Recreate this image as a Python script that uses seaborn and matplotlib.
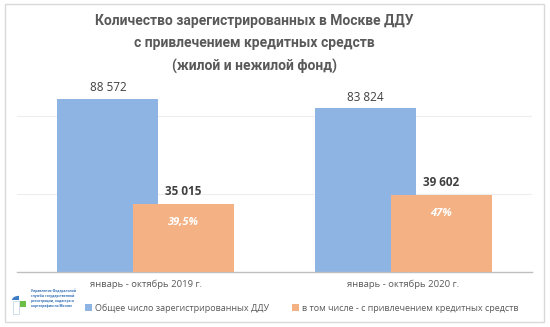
import matplotlib
matplotlib.use("Agg")
import matplotlib.pyplot as plt
from matplotlib.patches import Rectangle, Wedge, Patch
import seaborn as sns
import pandas as pd

# ---- data ----
categories = ["январь - октябрь 2019 г.", "январь - октябрь 2020 г."]
total_ddu = [88572, 83824]
credit_ddu = [35015, 39602]
total_labels = ["88 572", "83 824"]
credit_labels = ["35 015", "39 602"]
share_labels = ["39,5%", "47%"]
series_names = ["Общее число зарегистрированных ДДУ",
                "в том числе - с привлечением кредитных средств"]
title = "Количество зарегистрированных в Москве ДДУ\nс привлечением кредитных средств\n(жилой и нежилой фонд)"

BLUE = "#8DB4E2"
ORANGE = "#F4B183"
TXT = "#595959"
DARK = "#404040"

sns.set_theme(style="white")
plt.rcParams["font.family"] = ["Open Sans", "DejaVu Sans"]

W, H = 550, 327
fig = plt.figure(figsize=(W / 100, H / 100), dpi=100)
fig.patch.set_facecolor("white")

# chart border
fig.add_artist(Rectangle((5 / W, 1 - 322 / H), 539 / W, 318 / H,
                         transform=fig.transFigure, fill=False,
                         edgecolor="#D9D9D9", linewidth=1))

ax = fig.add_axes([17 / W, 1 - 272 / H, 515 / W, 190 / H])

offset = 0.147
bar_w = 0.392
idx = list(range(len(categories)))
df_total = pd.DataFrame({"x": [i - offset for i in idx], "y": total_ddu})
df_credit = pd.DataFrame({"x": [i + offset for i in idx], "y": credit_ddu})

sns.barplot(data=df_total, x="x", y="y", native_scale=True, width=bar_w,
            color=BLUE, saturation=1, linewidth=0, ax=ax, zorder=2)
sns.barplot(data=df_credit, x="x", y="y", native_scale=True, width=bar_w,
            color=ORANGE, saturation=1, linewidth=0, ax=ax, zorder=3)

ax.set_xlim(-0.5, len(categories) - 0.5)
ax.set_ylim(0, 97300)
ax.set_xlabel("")
ax.set_ylabel("")

# gridlines
ax.set_yticks([40000, 80000])
ax.set_yticklabels([])
ax.tick_params(axis="y", length=0)
ax.grid(axis="y", color="#EDEDED", linewidth=0.8, zorder=0)
ax.set_axisbelow(True)

# x axis: boundary ticks and category labels
ax.set_xticks([-0.5, 0.5, 1.5])
ax.set_xticklabels([])
ax.tick_params(axis="x", which="major", direction="out", length=3,
               color="#BFBFBF", width=0.8)
ax.set_xticks(idx, minor=True)
ax.set_xticklabels(categories, minor=True)
ax.tick_params(axis="x", which="minor", length=0, pad=5.5,
               labelsize=6.8, labelcolor=TXT)

for s in ["top", "left", "right"]:
    ax.spines[s].set_visible(False)
ax.spines["bottom"].set_color("#BFBFBF")
ax.spines["bottom"].set_linewidth(1)

# value labels
for i in idx:
    ax.annotate(total_labels[i], (i - offset, total_ddu[i]), xytext=(0, 8),
                textcoords="offset points", ha="center", va="center",
                fontsize=8.5, color=DARK)
    ax.annotate(credit_labels[i], (i + offset, credit_ddu[i]), xytext=(0, 8.5),
                textcoords="offset points", ha="center", va="center",
                fontsize=8.5, color=DARK, fontweight="bold")
    ax.annotate(share_labels[i], (i + offset, credit_ddu[i]), xytext=(0, -13.5),
                textcoords="offset points", ha="center", va="center",
                fontsize=8, color="white", fontweight="bold", fontstyle="italic")

# title
fig.text(254 / W, 1 - 44 / H, title, ha="center", va="center",
         fontsize=10, fontweight="bold", color=TXT, linespacing=1.75,
         family=["Roboto", "DejaVu Sans"])

# legend
handles = [Patch(facecolor=BLUE, edgecolor="none"),
           Patch(facecolor=ORANGE, edgecolor="none")]
fig.legend(handles, series_names, loc="center left",
           bbox_to_anchor=(85 / W, 1 - 308 / H), ncol=2, frameon=False,
           fontsize=6.5, labelcolor=TXT, handlelength=0.75, handleheight=0.75,
           handletextpad=0.35, columnspacing=2.6, borderpad=0, borderaxespad=0)

# logo (approximation)
fig.add_artist(Wedge((19 / W, 1 - 300 / H), 7 / W, 90, 180,
                     transform=fig.transFigure, facecolor="#3C7CC4",
                     edgecolor="none"))
fig.add_artist(Rectangle((20 / W, 1 - 307 / H), 6 / W, 6 / H,
                         transform=fig.transFigure, facecolor="#6DBE45",
                         edgecolor="none"))
fig.add_artist(Rectangle((13 / W, 1 - 314 / H), 6 / W, 13 / H,
                         transform=fig.transFigure, facecolor="none",
                         edgecolor="#C8D8E8", linewidth=0.6))
fig.text(31 / W, 1 - 298 / H,
         "Управление Федеральной\nслужбы государственной\nрегистрации, кадастра и\nкартографии по Москве",
         ha="left", va="center", fontsize=2.3, color="#2F6DB5",
         fontweight="bold", linespacing=1.3)

fig.savefig("out.png", dpi=100, facecolor="white")
